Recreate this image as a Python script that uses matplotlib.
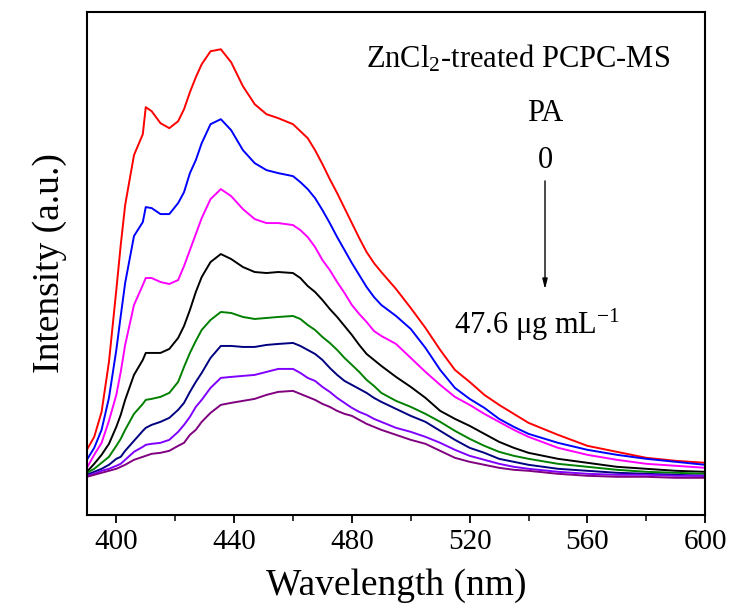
#!/usr/bin/env python3
"""
PL spectra of ZnCl2-treated PCPC-MS quenched by increasing PA concentration.
"""

import matplotlib
matplotlib.use('Agg')
import matplotlib.pyplot as plt
from matplotlib.ticker import MultipleLocator

plt.rcParams['font.family'] = ['Liberation Serif', 'DejaVu Serif']
plt.rcParams['mathtext.fontset'] = 'custom'
plt.rcParams['mathtext.rm'] = 'Liberation Serif'
plt.rcParams['mathtext.it'] = 'Liberation Serif:italic'
plt.rcParams['mathtext.bf'] = 'Liberation Serif:bold'

# Wavelength grid (nm)
wavelength = [390, 392.5, 395, 397.5, 400, 401.5, 403, 406, 409, 410, 412, 415, 418, 421,
              423, 425, 427, 429, 432, 435.5, 439, 443, 447, 451, 455, 460, 462.5, 465,
              467.5, 470, 472.5, 475, 477.5, 480, 482.5, 485, 487.5, 490, 495, 500, 505,
              510, 515, 520, 525, 530, 535, 540, 550, 560, 570, 580, 590, 600]

# Intensities (a.u.), PA 0 -> 47.6 ug/mL
pa_0 = [65, 78, 103, 153, 225, 270, 310, 360, 381, 408, 404, 392, 387, 394,
        406, 423, 438, 451, 464, 466, 453, 429, 411, 401, 397, 391, 384, 377,
        365, 351, 336, 322, 307, 292, 277, 263, 252, 243, 226, 207, 187,
        165, 145, 133, 120, 110, 101, 92, 80, 69, 63, 57, 54, 52]
pa_1 = [55, 67, 85, 117, 165, 199, 232, 279, 293, 308, 307, 301, 301, 312,
        323, 342, 355, 372, 391, 396, 385, 365, 352, 345, 342, 339, 333, 326,
        317, 305, 292, 278, 265, 252, 240, 228, 218, 210, 199, 186, 167,
        145, 127, 116, 107, 96, 88, 81, 72, 65, 60, 56, 53, 50]
pa_2 = [47, 60, 72, 94, 120, 143, 170, 210, 230, 237, 237, 233, 231, 235,
        249, 265, 281, 297, 316, 326, 319, 306, 296, 292, 292, 290, 285, 278,
        268, 255, 245, 233, 222, 210, 201, 193, 184, 179, 171, 157, 143,
        130, 118, 110, 101, 93, 85, 78, 67, 60, 55, 51, 49, 47]
pa_3 = [43, 51, 60, 71, 88, 100, 115, 140, 155, 162, 162, 162, 166, 177,
        189, 205, 223, 238, 253, 261, 256, 248, 243, 242, 243, 242, 237, 229,
        223, 215, 206, 198, 189, 180, 170, 161, 155, 149, 138, 128, 117,
        104, 96, 89, 81, 73, 67, 62, 56, 52, 48, 46, 44, 43]
pa_4 = [42, 46, 52, 58, 69, 76, 85, 101, 111, 115, 116, 118, 122, 133,
        148, 162, 174, 185, 195, 203, 202, 198, 196, 197, 198, 199, 196, 190,
        185, 178, 172, 165, 157, 150, 143, 135, 129, 122, 114, 108, 101,
        93, 84, 76, 69, 63, 59, 56, 51, 48, 45, 43, 42, 41]
pa_5 = [40, 43, 46, 50, 56, 58, 64, 74, 84, 87, 90, 93, 97, 105,
        112, 123, 133, 142, 157, 169, 169, 168, 168, 170, 171, 172, 169, 165,
        161, 155, 147, 140, 134, 130, 126, 122, 117, 113, 106, 99, 93,
        84, 75, 67, 62, 56, 53, 50, 46, 44, 42, 41, 40, 39]
pa_6 = [39, 41, 44, 46, 49, 51, 55, 63, 68, 70, 71, 72, 75, 83,
        90, 98, 108, 115, 127, 137, 138, 139, 140, 143, 146, 146, 142, 137,
        134, 128, 123, 117, 112, 107, 103, 100, 96, 93, 87, 83, 78,
        72, 65, 59, 55, 51, 48, 46, 43, 41, 40, 40, 39, 39]
pa_7 = [38, 40, 42, 44, 46, 48, 50, 55, 58, 59, 61, 62, 64, 69,
        72, 80, 85, 93, 102, 110, 112, 114, 116, 120, 123, 124, 121, 118,
        115, 111, 108, 104, 101, 99, 95, 91, 88, 85, 80, 75, 71,
        64, 57, 53, 50, 47, 45, 44, 41, 39, 38, 38, 37, 37]

series = [pa_0, pa_1, pa_2, pa_3, pa_4, pa_5, pa_6, pa_7]
colors = ['#ff0000', '#0000ff', '#ff00ff', '#000000',
          '#008000', '#000080', '#8000ff', '#800080']

fig = plt.figure(figsize=(7.3, 6.15), dpi=100)
ax = fig.add_axes([0.119, 0.163, 0.847, 0.817])

for vals, c in zip(series, colors):
    ax.plot(wavelength, vals, color=c, linewidth=1.4, solid_joinstyle='round')

ax.set_xlim(390, 600)
ax.set_ylim(0, 503)
ax.xaxis.set_major_locator(MultipleLocator(40))
ax.xaxis.set_minor_locator(MultipleLocator(20))
ax.set_yticks([])
ax.tick_params(axis='x', which='major', direction='out', length=6, width=1.3,
               labelsize=21, pad=4)
ax.tick_params(axis='x', which='minor', direction='out', length=4, width=1.1)
for sp in ax.spines.values():
    sp.set_linewidth(1.5)

ax.set_xlabel('Wavelength (nm)', fontsize=27, labelpad=10)
ax.set_ylabel('Intensity (a.u.)', fontsize=27, labelpad=14)

# Annotations
ax.text(536.5, 457, r'ZnCl$_2$-treated PCPC-MS', fontsize=22, ha='center', va='center')
ax.text(545.6, 402, 'PA', fontsize=22, ha='center', va='center')
ax.text(545.6, 355, '0', fontsize=22, ha='center', va='center')
ax.annotate('', xy=(545.6, 223), xytext=(545.6, 337),
            arrowprops=dict(arrowstyle='-|>,head_length=0.6,head_width=0.15',
                            color='black', lw=1.0))
ax.text(543, 190, r'47.6 μg mL$^{-1}$', fontsize=22, ha='center', va='center')

plt.savefig('out.png', dpi=100)
plt.close()
